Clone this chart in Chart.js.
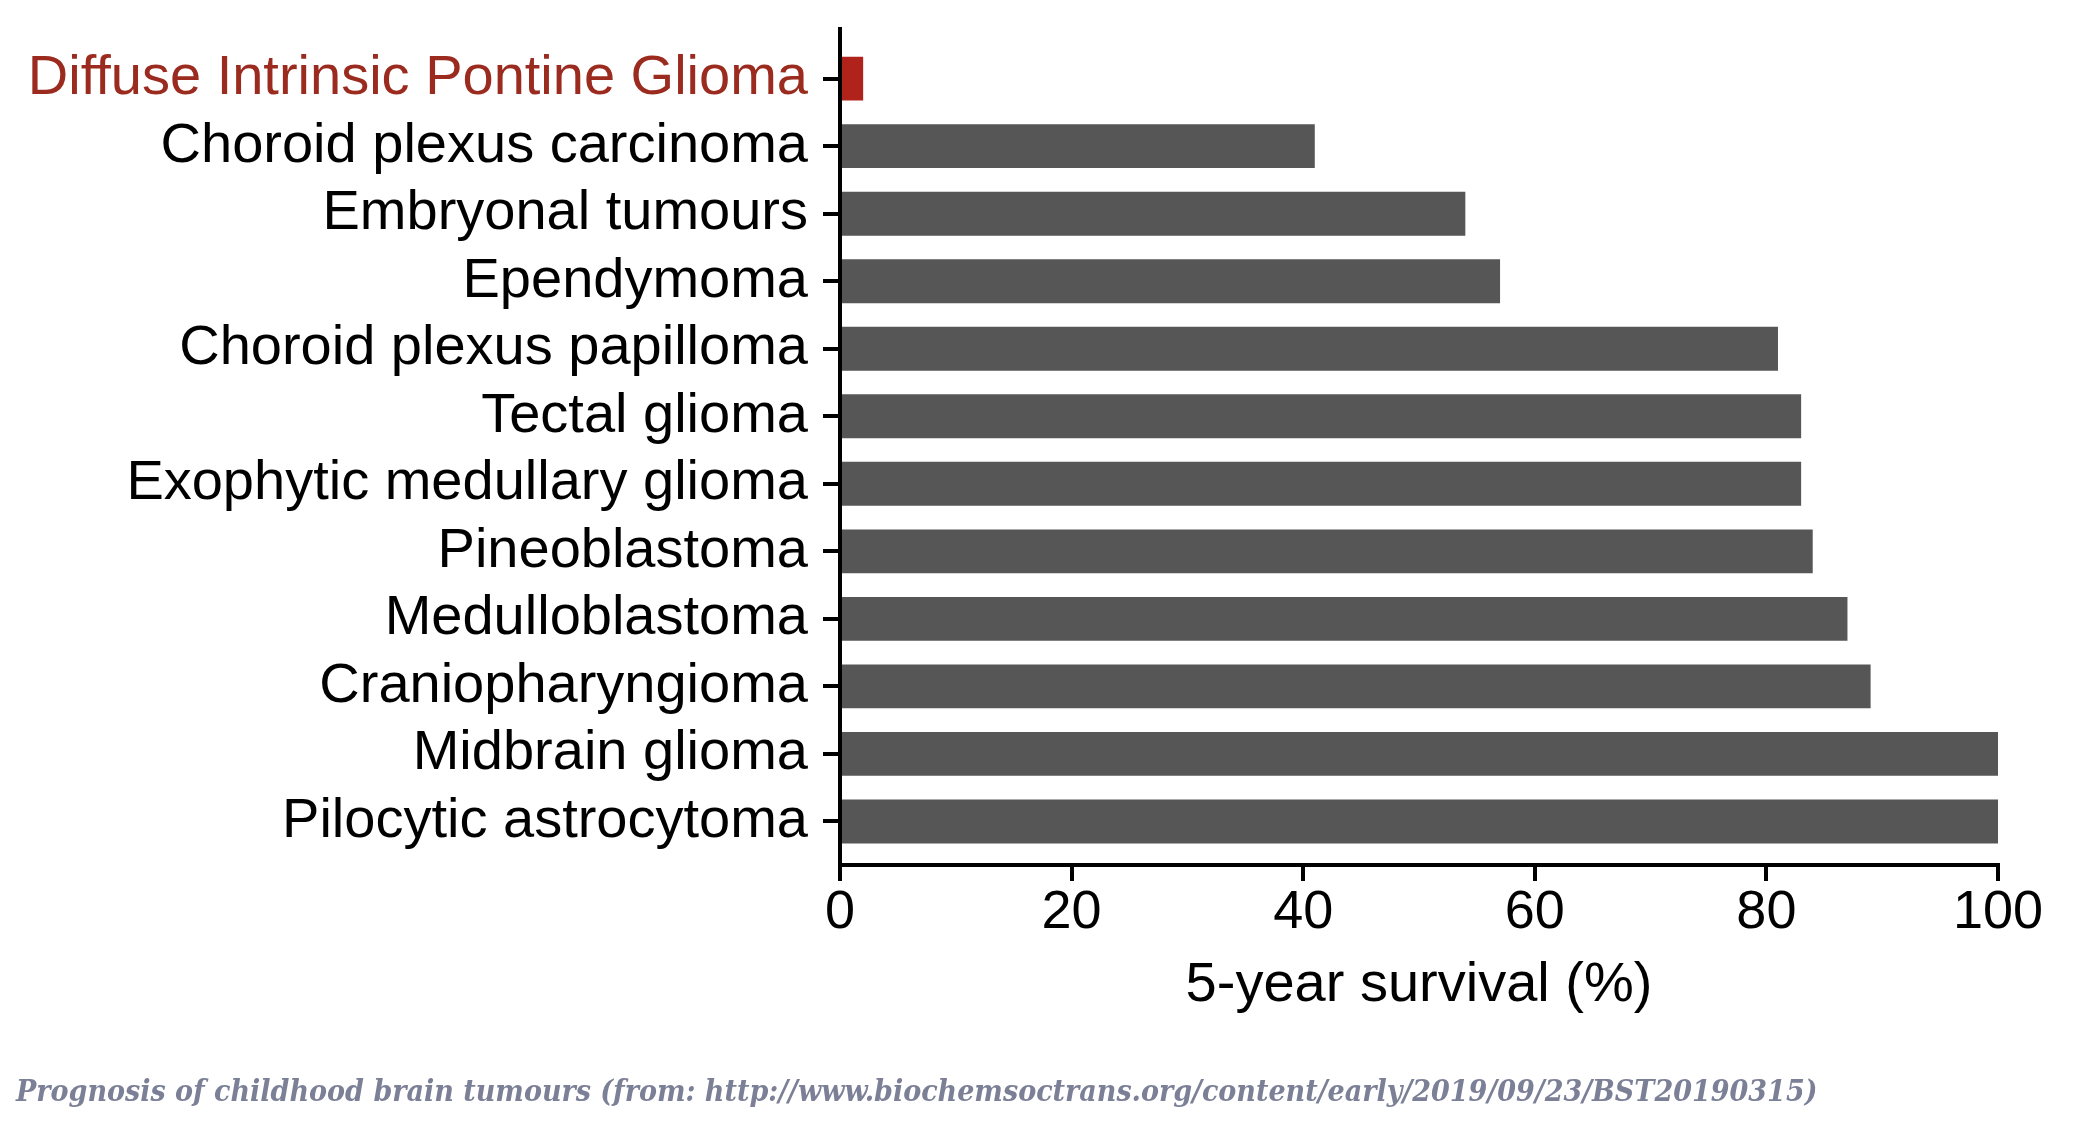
<!DOCTYPE html>
<html>
<head>
<meta charset="utf-8">
<script src="https://cdn.jsdelivr.net/npm/chart.js@4.4.1/dist/chart.umd.min.js"></script>
<style>
html,body{margin:0;padding:0;background:#fff;}
#wrap{width:2074px;height:1138px;position:relative;}
</style>
</head>
<body>
<div id="wrap"><canvas id="c" width="2074" height="1138"></canvas></div>
<script>
const categories = [
  "Diffuse Intrinsic Pontine Glioma",
  "Choroid plexus carcinoma",
  "Embryonal tumours",
  "Ependymoma",
  "Choroid plexus papilloma",
  "Tectal glioma",
  "Exophytic medullary glioma",
  "Pineoblastoma",
  "Medulloblastoma",
  "Craniopharyngioma",
  "Midbrain glioma",
  "Pilocytic astrocytoma"
];
const survival = [2, 41, 54, 57, 81, 83, 83, 84, 87, 89, 100, 100];
const xTicks = [0, 20, 40, 60, 80, 100];
const xTitle = "5-year survival (%)";
const caption = "Prognosis of childhood brain tumours (from: http://www.biochemsoctrans.org/content/early/2019/09/23/BST20190315)";

const RED_BAR = '#b0231a';
const RED_TEXT = '#9b2a1f';
const GREY = '#565656';

const points = survival.map((v, i) => ({ x: v, y: i }));

new Chart(document.getElementById('c'), {
  type: 'bar',
  data: {
    datasets: [{
      data: points,
      backgroundColor: survival.map((v, i) => i === 0 ? RED_BAR : GREY),
      borderWidth: 0,
      categoryPercentage: 1,
      barPercentage: 0.65
    }]
  },
  options: {
    indexAxis: 'y',
    responsive: false,
    animation: false,
    devicePixelRatio: 1,
    layout: { padding: { top: 29, left: 16, right: 76, bottom: 0 } },
    plugins: {
      legend: { display: false },
      tooltip: { enabled: false },
      title: {
        display: true,
        position: 'bottom',
        align: 'start',
        text: caption,
        color: '#7c8097',
        font: { family: '"DejaVu Serif Condensed", "DejaVu Serif", serif', size: 30, weight: 'bold', style: 'italic', lineHeight: 1.2 },
        padding: { top: 56, bottom: 27 }
      }
    },
    scales: {
      x: {
        type: 'linear',
        min: 0,
        max: 100,
        offset: false,
        afterBuildTicks: (s) => { s.ticks = xTicks.map(v => ({ value: v })); },
        ticks: {
          color: '#000',
          padding: 0,
          font: { family: '"Liberation Sans", Arial, sans-serif', size: 54, lineHeight: 1.2 }
        },
        grid: {
          display: true, drawOnChartArea: false, drawTicks: true, offset: false,
          tickLength: 16, tickWidth: 4, tickColor: '#000', lineWidth: 4, color: '#000'
        },
        border: { display: true, width: 4, color: '#000' },
        title: {
          display: true,
          text: xTitle,
          color: '#000',
          font: { family: '"Liberation Sans", Arial, sans-serif', size: 56, lineHeight: 1.2 },
          padding: { top: 6, bottom: 0 }
        }
      },
      y: {
        type: 'linear',
        reverse: true,
        offset: false,
        min: -0.735,
        max: 11.645,
        afterBuildTicks: (s) => { s.ticks = categories.map((_, i) => ({ value: i })); },
        afterFit: (s) => { s.width = 824; s.paddingTop = 0; s.paddingBottom = 0; },
        ticks: {
          autoSkip: false,
          callback: (v) => categories[v],
          color: (ctx) => ctx.index === 0 ? RED_TEXT : '#000',
          padding: 15,
          font: { family: '"Liberation Sans", Arial, sans-serif', size: 56, lineHeight: 1.2 }
        },
        grid: {
          display: true, drawOnChartArea: false, drawTicks: true, offset: false,
          tickLength: 17, tickWidth: 4, tickColor: '#000', lineWidth: 4, color: '#000'
        },
        border: { display: true, width: 4, color: '#000' }
      }
    }
  }
});
</script>
</body>
</html>
